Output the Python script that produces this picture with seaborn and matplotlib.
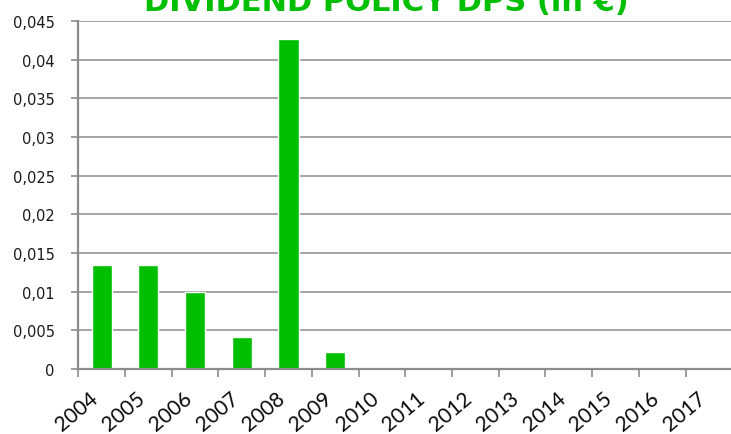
import matplotlib
matplotlib.use("Agg")
import matplotlib.pyplot as plt
import matplotlib.transforms as mtransforms
from matplotlib.ticker import FixedLocator, FuncFormatter
import pandas as pd
import seaborn as sns

# Chart data
years = ["2004", "2005", "2006", "2007", "2008", "2009", "2010",
         "2011", "2012", "2013", "2014", "2015", "2016", "2017"]
dps = [0.0134, 0.0134, 0.0100, 0.0042, 0.0427, 0.0022, 0.0,
       0.0, 0.0, 0.0, 0.0, 0.0, 0.0, 0.0]
y_ticks = [0, 0.005, 0.01, 0.015, 0.02, 0.025, 0.03, 0.035, 0.04, 0.045]
title = "DIVIDEND POLICY DPS (in €)"

green = "#00BE00"
grey = "#8C8C8C"


def fmt_comma(v, pos):
    s = f"{v:.3f}".rstrip("0").rstrip(".")
    return s.replace(".", ",")


def plot(df, output_path):
    sns.set_style("white")
    fig = plt.figure(figsize=(7.31, 4.35), dpi=100)
    ax = fig.add_axes([78.3 / 731, 65 / 435, 654 / 731, 348 / 435])

    sns.barplot(data=df, x="year", y="dps", order=years, color=green,
                width=0.43, saturation=1, ax=ax)

    ax.set_xlim(-0.5, len(years) - 0.5)
    ax.set_ylim(0, 0.045)
    ax.set_xlabel(None)
    ax.set_ylabel(None)

    # gridlines
    ax.yaxis.set_major_locator(FixedLocator(y_ticks))
    ax.yaxis.set_major_formatter(FuncFormatter(fmt_comma))
    ax.grid(axis="y", color=grey, linewidth=1.1)
    ax.set_axisbelow(True)

    for side in ["top", "right"]:
        ax.spines[side].set_visible(False)
    for side in ["left", "bottom"]:
        ax.spines[side].set_color(grey)
        ax.spines[side].set_linewidth(1.6)

    ax.tick_params(axis="y", direction="out", length=5, width=1.2, color=grey,
                   pad=12, labelsize=10.5, labelcolor="#1a1a1a", left=True)
    for lbl in ax.get_yticklabels():
        lbl.set_fontfamily("DejaVu Sans")

    # category boundary ticks on x
    ax.xaxis.set_minor_locator(FixedLocator([i - 0.5 for i in range(len(years) + 1)]))
    ax.tick_params(axis="x", which="minor", direction="out", length=6, width=1.2,
                   color=grey, bottom=True)
    ax.tick_params(axis="x", which="major", length=0, pad=19, labelsize=15,
                   labelcolor="#0a0a0a")
    shift = mtransforms.ScaledTranslation(-6 / 100, 0, fig.dpi_scale_trans)
    for lbl in ax.get_xticklabels():
        lbl.set_rotation(40)
        lbl.set_ha("right")
        lbl.set_va("center")
        lbl.set_rotation_mode("anchor")
        lbl.set_fontfamily("Lato")
        lbl.set_transform(lbl.get_transform() + shift)

    fig.text(386 / 731, 1 - 11 / 435, title, ha="center", va="baseline",
             fontsize=22, fontweight="bold", color=green, family="DejaVu Sans")

    fig.savefig(output_path, dpi=100)


def main():
    df = pd.DataFrame({"year": years, "dps": dps})
    plot(df, "out.png")


if __name__ == "__main__":
    main()
